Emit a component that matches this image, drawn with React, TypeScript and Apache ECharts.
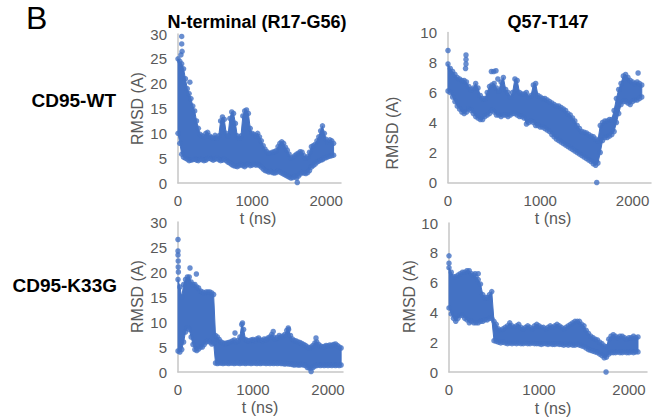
import React, { useEffect, useRef } from 'react';
import * as echarts from 'echarts';

// sampling times (ns)
const TIMES = [
  0, 25, 50, 75, 100, 125, 150, 175, 200, 225,
  250, 275, 300, 325, 350, 375, 400, 425, 450, 475,
  500, 525, 550, 575, 600, 625, 650, 675, 700, 725,
  750, 775, 800, 825, 850, 875, 900, 925, 950, 975,
  1000, 1025, 1050, 1075, 1100, 1125, 1150, 1175, 1200, 1225,
  1250, 1275, 1300, 1325, 1350, 1375, 1400, 1425, 1450, 1475,
  1500, 1525, 1550, 1575, 1600, 1625, 1650, 1675, 1700, 1725,
  1750, 1775, 1800, 1825, 1850, 1875, 1900, 1925, 1950, 1975,
  2000, 2025, 2050, 2075, 2100, 2125, 2150, 2175,
];

// CD95-WT, N-terminal (R17-G56): upper / lower edge of RMSD cloud
const WT_N_HI = [
  25, 24.5, 24, 23, 21, 19, 18, 17, 15.5, 14.5,
  12.5, 11, 9.8, 9.5, 9.3, 10, 10.2, 9.5, 9.2, 9,
  9.6, 9, 9.5, 12.5, 13.3, 12.8, 10, 9.5, 13, 14.3,
  14, 12, 9.5, 9, 9.5, 13.5, 14.5, 14.7, 14, 11,
  10, 9.8, 9.5, 10, 9.3, 8.5, 7.5, 6.8, 6.3, 6,
  6, 6.2, 6.3, 6.5, 7.3, 8, 8.3, 8, 7.2, 6.6,
  5.8, 5, 5.2, 5.5, 5.8, 6, 6.3, 6.2, 5.5, 5,
  5.3, 6.2, 7.3, 7.5, 7.8, 8.5, 9.3, 10.5, 11.5, 10,
  8.8, 8.2, 8.7, 8.5, 8,
];
const WT_N_LO = [
  10, 8, 5.8, 5.2, 5, 4.8, 4.5, 4.6, 4.7, 4.8,
  4.6, 4.5, 4.8, 4.7, 4.5, 4.6, 4.9, 5, 4.8, 4.6,
  4.8, 5, 4.7, 4.5, 4.6, 4.8, 4.5, 4.2, 4, 3.7,
  3.5, 3.4, 3.3, 3.5, 3.7, 3.5, 3.3, 3.6, 3.8, 3.5,
  3.6, 3.8, 3.6, 3.7, 3.5, 3.2, 2.8, 2.5, 2.4, 2.2,
  2.3, 2.1, 2, 2.1, 2.4, 2.2, 2, 1.8, 1.6, 1.4,
  1.2, 1, 1.1, 1.3, 1, 1.4, 1.8, 2.1, 2, 1.9,
  2.1, 2.5, 3.2, 3.5, 3.8, 4.2, 4.4, 4.6, 4.7, 5,
  5.1, 5.3, 5.4, 5.5, 5.6,
];
const WT_N_OUT = [[50, 29.5], [50, 28], [55, 26.5], [40, 25.8], [160, 20.3], [1610, 0.1]];

// CD95-WT, Q57-T147
const WT_Q_HI = [
  7.9, 7.6, 7.4, 7.2, 7.0, 6.9, 6.8, 6.8, 6.7, 6.4,
  6.2, 6.3, 6.6, 6.3, 5.8, 5.6, 5.6, 6.0, 6.4, 6.5,
  6.6, 6.3, 6.1, 6.7, 7.0, 6.2, 6.0, 5.7, 6.0, 6.9,
  6.8, 6.0, 5.9, 5.9, 6.0, 5.7, 5.8, 6.5, 6.6, 5.8,
  5.7, 5.6, 5.6, 5.5, 5.4, 5.3, 5.2, 5.1, 5.1, 5.0,
  4.9, 4.8, 4.6, 4.5, 4.3, 4.1, 3.8, 3.6, 3.4, 3.35,
  3.3, 3.2, 3.1, 3.05, 2.9, 2.8, 3.8, 4.0, 4.1, 4.1,
  4.2, 4.2, 4.8, 5.6, 6.2, 6.6, 7.1, 7.2, 7.0, 6.8,
  6.7, 6.6, 6.7, 6.6, 6.5,
];
const WT_Q_LO = [
  6.1, 6.0, 5.7, 5.4, 5.1, 4.9, 4.7, 4.6, 4.7, 4.9,
  4.8, 4.6, 4.4, 4.3, 4.2, 4.2, 4.4, 4.5, 4.6, 4.8,
  4.7, 4.5, 4.5, 4.4, 4.5, 4.5, 4.4, 4.5, 4.6, 4.6,
  4.5, 4.4, 4.4, 4.3, 3.9, 4.0, 4.1, 4.0, 3.8, 3.8,
  3.7, 3.7, 3.6, 3.5, 3.4, 3.2, 3.05, 2.9, 2.8, 2.7,
  2.6, 2.5, 2.4, 2.3, 2.2, 2.1, 2.0, 1.9, 1.8, 1.7,
  1.6, 1.5, 1.4, 1.25, 1.15, 1.3, 2.0, 2.8, 3.0, 3.0,
  3.1, 3.2, 3.4, 4.0, 4.6, 5.2, 5.4, 5.4, 5.3, 5.2,
  5.4, 5.5, 5.5, 5.6, 5.7,
];
const WT_Q_OUT = [
  [0, 8.8], [195, 8.5], [195, 8.2], [195, 7.9], [190, 7.6], [470, 7.4], [495, 7.4],
  [520, 7.45], [540, 6.9], [2060, 7.3], [1612, 0],
];

// CD95-K33G, N-terminal (R17-G56)
const KG_N_HI = [
  18.5, 17, 15, 17.5, 18.5, 19, 19, 18, 17.5, 17.5,
  17, 16.8, 16.2, 16, 15.8, 16, 16, 16, 15.8, 15.5,
  7.3, 7.0, 6.5, 6.0, 5.8, 5.7, 5.8, 5.9, 6.0, 6.2,
  6.4, 6.0, 6.3, 7.0, 9.5, 8.5, 6.5, 6.3, 6.2, 6.4,
  6.5, 6.3, 6.6, 6.8, 6.4, 6.3, 6.6, 6.5, 6.8, 7.0,
  7.5, 7.0, 6.6, 6.9, 7.3, 7.0, 7.2, 7.5, 8.3, 8.5,
  7.3, 6.6, 6.3, 6.2, 6.0, 5.9, 5.7, 5.5, 5.3, 5.0,
  4.8, 5.0, 5.3, 5.8, 6.0, 5.5, 5.2, 5.0, 5.1, 5.3,
  5.2, 5.4, 5.3, 5.5, 5.6, 5.3, 5.0, 4.8,
];
const KG_N_LO = [
  4.2, 4.0, 4.5, 6, 8, 8.8, 8.5, 7, 5.5, 4.5,
  4.3, 4.6, 5, 5, 5.5, 6, 6.2, 6, 5.6, 5.8,
  1.8, 1.7, 1.8, 1.8, 1.7, 1.8, 1.8, 1.7, 1.8, 1.8,
  1.7, 1.8, 1.8, 1.7, 1.8, 1.8, 1.7, 1.8, 1.8, 1.7,
  1.8, 1.8, 1.7, 1.8, 1.7, 1.8, 1.8, 1.7, 1.8, 1.7,
  1.8, 1.7, 1.8, 1.7, 1.8, 1.7, 1.7, 1.6, 1.7, 1.6,
  1.6, 1.5, 1.4, 1.5, 1.4, 1.4, 1.5, 1.4, 1.3, 0.9,
  0.8, 0.8, 0.9, 1.2, 1.3, 1.4, 1.3, 1.4, 1.3, 1.4,
  1.3, 1.4, 1.3, 1.4, 1.3, 1.4, 1.3, 1.4,
];
const KG_N_OUT = [
  [0, 26.5], [0, 24.2], [0, 23.4], [3, 22.2], [3, 21], [5, 20], [160, 20.8], [245, 19.6],
  [760, 7.8], [860, 9.8], [1270, 8.1], [1470, 8.8], [1840, 6.8], [1775, 0.1],
];

// CD95-K33G, Q57-T147
const KG_Q_HI = [
  7.0, 6.7, 6.4, 6.4, 6.5, 6.6, 6.7, 6.7, 6.8, 6.8,
  6.6, 6.5, 6.4, 6.2, 5.9, 5.2, 5.0, 5.0, 5.2, 5.4,
  3.4, 3.2, 2.9, 2.8, 2.9, 3.0, 3.1, 3.3, 3.1, 3.0,
  3.1, 3.2, 3.0, 2.9, 3.0, 3.1, 3.0, 2.9, 3.1, 3.2,
  3.1, 3.0, 3.0, 2.9, 3.0, 3.1, 3.0, 3.1, 3.2, 3.1,
  3.0, 2.9, 3.0, 3.1, 3.2, 3.3, 3.4, 3.4, 3.4, 3.2,
  3.1, 2.8, 2.6, 2.4, 2.3, 2.2, 2.15, 2.0, 1.9, 1.75,
  1.7, 2.2, 2.4, 2.5, 2.4, 2.3, 2.4, 2.4, 2.3, 2.2,
  2.3, 2.3, 2.4, 2.3, 2.35,
];
const KG_Q_LO = [
  4.3, 3.9, 3.6, 3.4, 3.6, 3.8, 3.8, 3.6, 3.5, 3.3,
  3.4, 3.3, 3.3, 3.3, 3.4, 3.4, 3.5, 3.5, 3.6, 3.6,
  2.1, 2.05, 2.0, 1.95, 2.0, 1.95, 1.9, 1.95, 1.9, 1.95,
  1.9, 1.95, 1.9, 1.9, 1.95, 1.9, 1.9, 1.95, 1.9, 1.9,
  1.9, 1.85, 1.9, 1.9, 1.85, 1.9, 1.85, 1.85, 1.9, 1.85,
  1.85, 1.8, 1.85, 1.8, 1.85, 1.8, 1.8, 1.85, 1.8, 1.75,
  1.7, 1.6, 1.5, 1.45, 1.4, 1.35, 1.3, 1.2, 1.1, 0.95,
  1.0, 1.2, 1.3, 1.3, 1.3, 1.35, 1.3, 1.3, 1.35, 1.3,
  1.3, 1.35, 1.3, 1.35, 1.35,
];
const KG_Q_OUT = [[0, 7.8], [0, 7.3], [290, 6.6], [325, 6.6], [1745, 0]];

const X_TICKS = [0, 1000, 2000];
const Y_MAX = [30, 10, 30, 10];
const Y_STEP = [5, 2, 5, 2];

const BLUE = '#4472C4';
const GRAY_TEXT = '#595959';
const AXIS_GRAY = '#c6c6c6';
const FONT = '"Liberation Sans", Arial, Helvetica, sans-serif';

function edgeDots(hi: number[], lo: number[]) {
  return hi.map((v, i) => [TIMES[i], v]).concat(lo.map((v, i) => [TIMES[i], v]));
}

export default function App() {
  const ref = useRef<HTMLDivElement>(null);
  useEffect(() => {
    if (!ref.current) return;
    const chart = echarts.init(ref.current, null, { renderer: 'svg' });
    const panels = [
      { hi: WT_N_HI, lo: WT_N_LO, out: WT_N_OUT },
      { hi: WT_Q_HI, lo: WT_Q_LO, out: WT_Q_OUT },
      { hi: KG_N_HI, lo: KG_N_LO, out: KG_N_OUT },
      { hi: KG_Q_HI, lo: KG_Q_LO, out: KG_Q_OUT },
    ];
    const grids = [
      { left: 178, top: 34, width: 163, height: 149 },
      { left: 448, top: 32.5, width: 211, height: 150 },
      { left: 178, top: 222, width: 165, height: 150 },
      { left: 449, top: 223, width: 198, height: 149 },
    ];
    const xAxis = grids.map((_, i) => ({
      type: 'value', gridIndex: i, min: 0, max: 2200, interval: 1000,
      axisLine: { show: true, onZero: false, lineStyle: { color: AXIS_GRAY, width: 1.5 } },
      axisTick: { show: false }, splitLine: { show: false },
      axisLabel: {
        color: GRAY_TEXT, fontSize: 15, margin: 10, fontFamily: FONT,
        formatter: (v: number) => (X_TICKS.indexOf(v) >= 0 ? String(v) : ''),
      },
    }));
    const yAxis = grids.map((_, i) => ({
      type: 'value', gridIndex: i, min: 0, max: Y_MAX[i], interval: Y_STEP[i],
      axisLine: { show: true, lineStyle: { color: AXIS_GRAY, width: 1.5 } },
      axisTick: { show: false }, splitLine: { show: false },
      axisLabel: { color: GRAY_TEXT, fontSize: 15, margin: 11, fontFamily: FONT },
    }));
    const series: any[] = [];
    panels.forEach((p, i) => {
      const n = p.hi.length;
      series.push({
        type: 'custom', xAxisIndex: i, yAxisIndex: i,
        dimensions: ['t', 'lo', 'hi'],
        encode: { x: 0, y: [1, 2] },
        data: p.hi.map((h, k) => [TIMES[k], p.lo[k], h]),
        renderItem: (params: any, api: any) => {
          if (params.dataIndex !== 0) return null;
          const pts: number[][] = [];
          for (let k = 0; k < n; k++) pts.push(api.coord([TIMES[k], p.hi[k]]));
          for (let k = n - 1; k >= 0; k--) pts.push(api.coord([TIMES[k], p.lo[k]]));
          return {
            type: 'polygon',
            shape: { points: pts },
            style: { fill: BLUE, stroke: BLUE, lineWidth: 1, lineJoin: 'round' },
          };
        },
        silent: true,
      });
      series.push({
        type: 'scatter', xAxisIndex: i, yAxisIndex: i,
        data: edgeDots(p.hi, p.lo).concat(p.out),
        symbol: 'circle', symbolSize: 5.5,
        itemStyle: { color: BLUE },
        silent: true,
      });
    });
    const txt = (text: string, x: number, y: number, font: string, fill: string, align = 'center', rotation = 0) => ({
      type: 'text', x, y, rotation,
      style: { text, font, fill, align, verticalAlign: 'middle' },
    });
    const bold18 = `bold 18px ${FONT}`;
    const bold19 = `bold 19px ${FONT}`;
    const name16 = `16px ${FONT}`;
    chart.setOption({
      animation: false,
      grid: grids,
      xAxis,
      yAxis,
      series,
      graphic: [
        txt('B', 26, 18, `32px ${FONT}`, '#000', 'left'),
        txt('N-terminal (R17-G56)', 257, 22, bold18, '#000'),
        txt('Q57-T147', 548, 22, bold18, '#000'),
        txt('CD95-WT', 116, 100, bold19, '#000', 'right'),
        txt('CD95-K33G', 117, 285, bold19, '#000', 'right'),
        txt('RMSD (A)', 137, 108.5, name16, GRAY_TEXT, 'center', Math.PI / 2),
        txt('RMSD (A)', 392, 133, name16, GRAY_TEXT, 'center', Math.PI / 2),
        txt('RMSD (A)', 137, 296.5, name16, GRAY_TEXT, 'center', Math.PI / 2),
        txt('RMSD (A)', 409, 296.5, name16, GRAY_TEXT, 'center', Math.PI / 2),
        txt('t (ns)', 258, 218, name16, GRAY_TEXT),
        txt('t (ns)', 553, 218, name16, GRAY_TEXT),
        txt('t (ns)', 260, 407, name16, GRAY_TEXT),
        txt('t (ns)', 553, 408, name16, GRAY_TEXT),
      ],
    });
    return () => chart.dispose();
  }, []);
  return (
    <div
      ref={ref}
      style={{ position: 'fixed', left: 0, top: 0, width: 654, height: 419, background: '#fff' }}
    />
  );
}
